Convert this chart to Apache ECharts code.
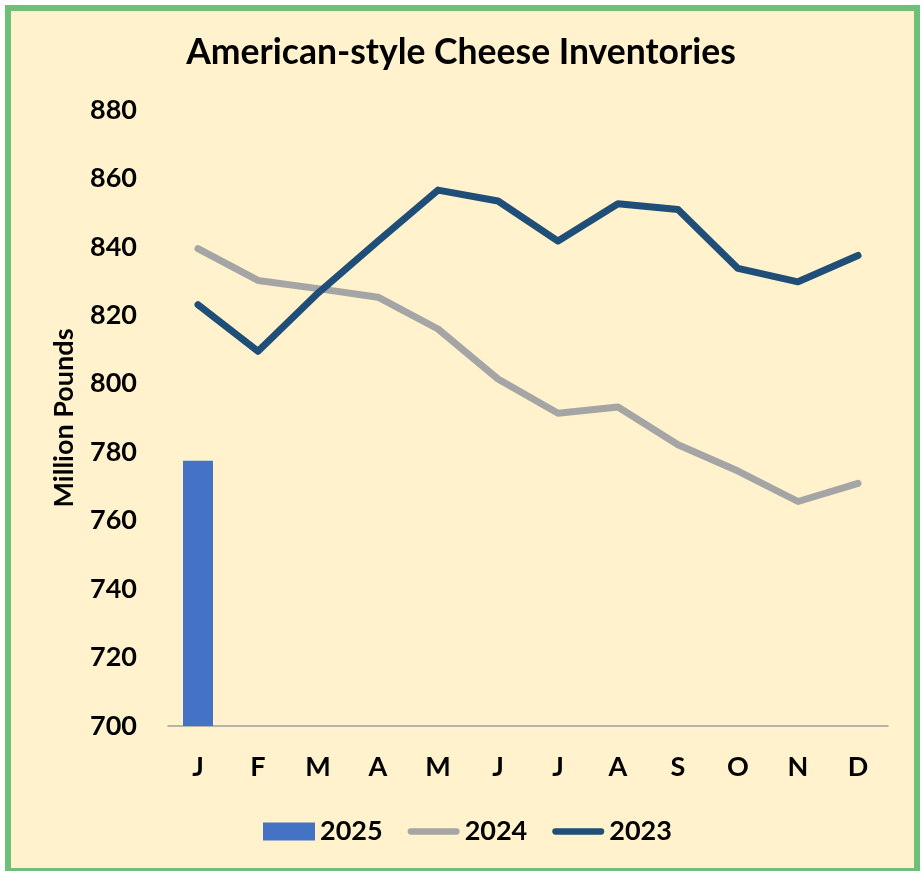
<!DOCTYPE html>
<html>
<head>
<meta charset="utf-8">
<script src="https://cdn.jsdelivr.net/npm/echarts@6/dist/echarts.min.js"></script>
<style>
html,body{margin:0;padding:0;background:#fff;}
#chart{width:922px;height:871px;}
</style>
</head>
<body>
<div id="chart"></div>
<script>
var months = ['J','F','M','A','M','J','J','A','S','O','N','D'];
var yTicks = {min: 700, max: 880, step: 20};
var s2025 = [777.5];
var s2024 = [839.5, 830.2, 827.8, 825.3, 816.0, 801.4, 791.4, 793.2, 782.2, 774.5, 765.6, 770.9];
var s2023 = [823.1, 809.5, 826.5, 841.7, 856.6, 853.4, 841.7, 852.6, 850.9, 833.7, 829.8, 837.5];

var FONT = 'Lato';
var chart = echarts.init(document.getElementById('chart'), null, {renderer: 'canvas'});
var linePath = 'path://M3.5,0 H54.5 A3.5,3.5 0 0 1 54.5,7 H3.5 A3.5,3.5 0 0 1 3.5,0 Z';
chart.setOption({
  backgroundColor: '#ffffff',
  animation: false,
  graphic: [{
    type: 'rect', z: -10, silent: true,
    shape: {x: 8, y: 8, width: 909, height: 863},
    style: {fill: '#FFF2CC', stroke: '#70BF78', lineWidth: 6}
  }],
  title: {
    text: 'American-style Cheese Inventories',
    left: 'center', top: 30,
    textStyle: {fontFamily: FONT, fontWeight: 'bold', fontSize: 35.5, color: '#000'}
  },
  grid: {left: 168, right: 34, top: 110, bottom: 145},
  legend: {
    left: 258, top: 813,
    itemWidth: 52, itemHeight: 18, itemGap: 25,
    textStyle: {fontFamily: FONT, fontWeight: 'bold', fontSize: 27, color: '#000'},
    data: [
      {name: '2025', icon: 'rect'},
      {name: '2024', icon: linePath},
      {name: '2023', icon: linePath}
    ]
  },
  xAxis: {
    type: 'category', data: months, boundaryGap: true,
    axisLine: {lineStyle: {color: '#A0A0A0', width: 1.5}},
    axisTick: {show: false},
    axisLabel: {margin: 28, fontFamily: FONT, fontWeight: 'bold', fontSize: 27, color: '#000'}
  },
  yAxis: {
    type: 'value', min: yTicks.min, max: yTicks.max, interval: yTicks.step,
    name: 'Million Pounds', nameLocation: 'middle', nameGap: 90, nameRotate: 90,
    nameTextStyle: {fontFamily: FONT, fontWeight: 'bold', fontSize: 27, color: '#000'},
    axisLine: {show: false}, axisTick: {show: false}, splitLine: {show: false},
    axisLabel: {margin: 31, fontFamily: FONT, fontWeight: 'bold', fontSize: 27, color: '#000'}
  },
  series: [
    {name: '2025', type: 'bar', data: s2025, barWidth: 30, itemStyle: {color: '#4472C4'}},
    {name: '2024', type: 'line', data: s2024, showSymbol: false, symbol: 'none',
     itemStyle: {color: '#A5A5A5'},
     lineStyle: {color: '#A5A5A5', width: 7, cap: 'round', join: 'round'}},
    {name: '2023', type: 'line', data: s2023, showSymbol: false, symbol: 'none',
     itemStyle: {color: '#1F4E79'},
     lineStyle: {color: '#1F4E79', width: 7, cap: 'round', join: 'round'}}
  ]
});
</script>
</body>
</html>
